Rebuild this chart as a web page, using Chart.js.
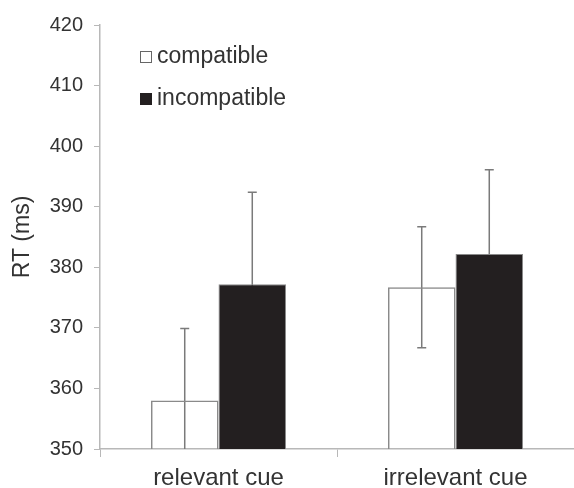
<!DOCTYPE html>
<html>
<head>
<meta charset="utf-8">
<script src="https://cdn.jsdelivr.net/npm/chart.js@4"></script>
<style>
  html, body { margin: 0; padding: 0; background: #fff; }
  #wrap { width: 574px; height: 488px; }
</style>
</head>
<body>
<div id="wrap"><canvas id="rtChart" width="574" height="488"></canvas></div>
<script>
// Data
const categories = ['relevant cue', 'irrelevant cue'];
const seriesLabels = ['compatible', 'incompatible'];
const compatibleRT = [358.0, 376.7];
const incompatibleRT = [377.2, 382.2];
const compatibleErr = [11.9, 10.0];
const incompatibleErr = [15.2, 13.9];
const yMin = 350;
const yMax = 420;
const yStep = 10;

const FONT = '"Liberation Sans", Arial, sans-serif';
const AXIS_GREY = '#b8b8b8';
const ERR_GREY = '#7a7a7a';
const TEXT = '#333333';

// error bars drawn under the bars, so the black bar hides its lower half
const errorBars = {
    id: 'errorBars',
    beforeDatasetsDraw(chart) {
        const { ctx, chartArea, scales: { y } } = chart;
        const errs = [compatibleErr, incompatibleErr];
        ctx.save();
        ctx.beginPath();
        ctx.rect(chartArea.left, chartArea.top, chartArea.right - chartArea.left, chartArea.bottom - chartArea.top);
        ctx.clip();
        ctx.strokeStyle = ERR_GREY;
        ctx.lineWidth = 1.5;
        chart.data.datasets.forEach((ds, di) => {
            const meta = chart.getDatasetMeta(di);
            meta.data.forEach((bar, i) => {
                const v = ds.data[i];
                const e = errs[di][i];
                const top = y.getPixelForValue(v + e);
                const bottom = y.getPixelForValue(v - e);
                ctx.beginPath();
                ctx.moveTo(bar.x, top);
                ctx.lineTo(bar.x, bottom);
                ctx.moveTo(bar.x - 4.5, top);
                ctx.lineTo(bar.x + 4.5, top);
                ctx.moveTo(bar.x - 4.5, bottom);
                ctx.lineTo(bar.x + 4.5, bottom);
                ctx.stroke();
            });
        });
        ctx.restore();
    },
};

const insideLegend = {
    id: 'insideLegend',
    afterDraw(chart) {
        const { ctx } = chart;
        const rows = [
            { text: seriesLabels[0], fill: '#ffffff', y: 57 },
            { text: seriesLabels[1], fill: '#231f20', y: 99 },
        ];
        ctx.save();
        ctx.font = `23px ${FONT}`;
        ctx.textBaseline = 'middle';
        rows.forEach((r) => {
            ctx.fillStyle = r.fill;
            ctx.fillRect(140, r.y - 6, 12, 12);
            ctx.strokeStyle = r.fill === '#ffffff' ? '#666' : '#231f20';
            ctx.lineWidth = 1;
            ctx.strokeRect(140.5, r.y - 5.5, 11, 11);
            ctx.fillStyle = TEXT;
            ctx.fillText(r.text, 157, r.y);
        });
        ctx.restore();
    },
};

const ctx = document.getElementById('rtChart').getContext('2d');

// eslint-disable-next-line no-new
new Chart(ctx, {
    type: 'bar',
    data: {
        labels: categories,
        datasets: [
            {
                label: seriesLabels[0],
                data: compatibleRT,
                backgroundColor: 'rgba(255,255,255,0)',
                borderColor: '#8a8a8a',
                borderWidth: 1.5,
                borderSkipped: 'bottom',
            },
            {
                label: seriesLabels[1],
                data: incompatibleRT,
                backgroundColor: '#231f20',
                borderColor: '#8a8a8a',
                borderWidth: 1,
                borderSkipped: 'bottom',
            },
        ],
    },
    options: {
        responsive: false,
        animation: false,
        layout: { padding: { top: 25, left: 9, right: 0, bottom: 0 } },
        datasets: {
            bar: { categoryPercentage: 0.57, barPercentage: 1.0 },
        },
        plugins: {
            legend: { display: false },
            tooltip: { enabled: false },
        },
        scales: {
            x: {
                grid: {
                    offset: true,
                    drawOnChartArea: false,
                    drawTicks: true,
                    tickLength: 8,
                    color: AXIS_GREY,
                },
                border: { color: AXIS_GREY, width: 1.5 },
                ticks: {
                    color: TEXT,
                    font: { family: FONT, size: 24 },
                    padding: 7,
                },
                afterFit(scale) {
                    scale.height = 39;
                },
            },
            y: {
                min: yMin,
                max: yMax,
                ticks: {
                    stepSize: yStep,
                    color: TEXT,
                    font: { family: FONT, size: 20 },
                    padding: 11,
                },
                grid: {
                    drawOnChartArea: false,
                    tickLength: 6,
                    color: AXIS_GREY,
                },
                border: { color: AXIS_GREY, width: 1.5 },
                title: {
                    display: true,
                    text: 'RT (ms)',
                    color: TEXT,
                    font: { family: FONT, size: 23 },
                    padding: 0,
                },
                afterFit(scale) {
                    scale.width = 91;
                },
            },
        },
    },
    plugins: [errorBars, insideLegend],
});
</script>
</body>
</html>
